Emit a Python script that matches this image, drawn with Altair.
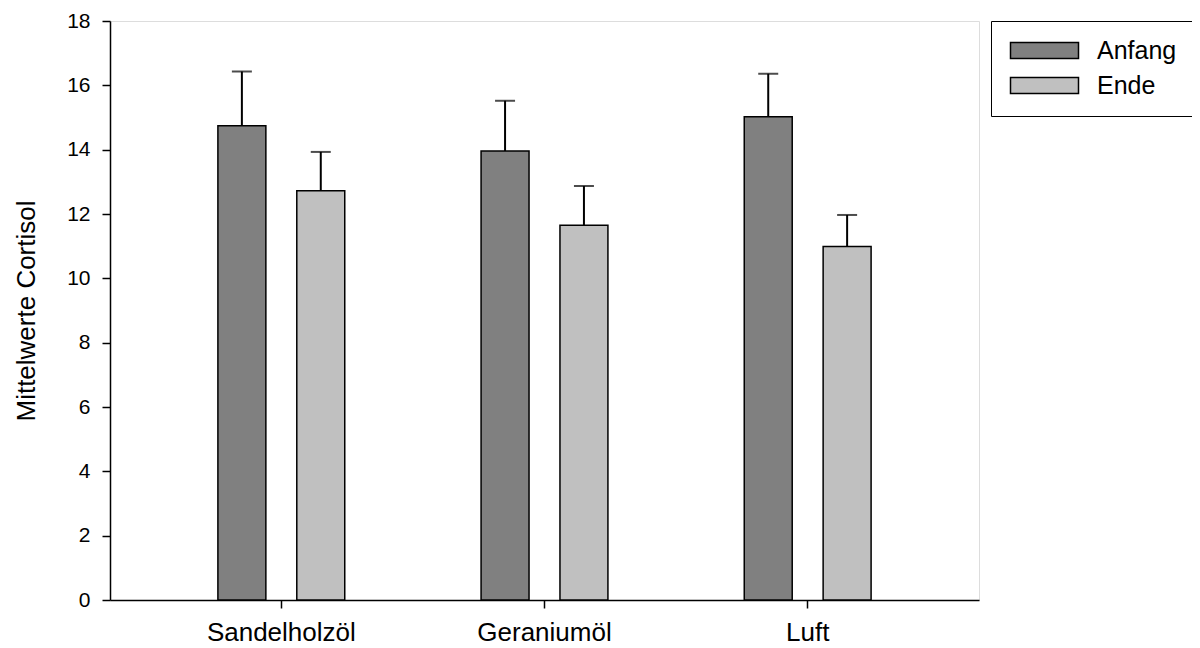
import altair as alt
import pandas as pd

categories = ["Sandelholzöl", "Geraniumöl", "Luft"]
groups = ["Anfang", "Ende"]
anfang = [14.74, 13.96, 15.02]
ende = [12.72, 11.65, 10.99]
anfang_err = [1.69, 1.56, 1.34]
ende_err = [1.21, 1.22, 0.98]

rows = []
for i, c in enumerate(categories):
    rows.append({"cat": c, "grp": "Anfang", "val": anfang[i], "top": anfang[i] + anfang_err[i]})
    rows.append({"cat": c, "grp": "Ende", "val": ende[i], "top": ende[i] + ende_err[i]})
df = pd.DataFrame(rows)

FONT = "Liberation Sans"

x = alt.X("cat:N", sort=categories, title=None,
          scale=alt.Scale(paddingInner=0, paddingOuter=0.151),
          axis=alt.Axis(labelAngle=0, labelFontSize=26, labelPadding=11, tickSize=8,
                        tickColor="black", domainColor="black", tickWidth=1.5, domainWidth=1.5,
                        labelColor="black", labelFont=FONT))
xo = alt.XOffset("grp:N", sort=groups,
                 scale=alt.Scale(paddingInner=0.392, paddingOuter=0.864))
y_scale = alt.Scale(domain=[0, 18], nice=False, zero=True)

bars = alt.Chart(df).mark_bar(stroke="black", strokeWidth=1.5).encode(
    x=x,
    xOffset=xo,
    y=alt.Y("val:Q", scale=y_scale, title="Mittelwerte Cortisol",
            axis=alt.Axis(values=list(range(0, 19, 2)), grid=False, tickSize=8,
                          labelPadding=12, labelFontSize=21, titleFontSize=26,
                          titleFontWeight="normal", titlePadding=27,
                          tickColor="black", domainColor="black", tickWidth=1.5, domainWidth=1.5,
                          labelColor="black", titleColor="black",
                          labelFont=FONT, titleFont=FONT)),
    color=alt.Color("grp:N", sort=groups, title=None,
                    scale=alt.Scale(domain=groups, range=["#808080", "#c0c0c0"]),
                    legend=alt.Legend(orient="none", legendX=881, legendY=0,
                                      strokeColor="black", fillColor="white", padding=17,
                                      symbolType="M-4.25,-1H4.25V1H-4.25Z", symbolSize=256,
                                      symbolOffset=24,
                                      symbolStrokeColor="black", symbolStrokeWidth=1.5,
                                      labelFontSize=25, labelOffset=40, rowPadding=9,
                                      labelFont=FONT, labelColor="black")),
)

rules = alt.Chart(df).mark_rule(color="black", strokeWidth=2).encode(
    x=x, xOffset=xo,
    y=alt.Y("val:Q", scale=y_scale),
    y2="top:Q",
)

caps = alt.Chart(df).mark_tick(color="black", size=20, thickness=2).encode(
    x=x, xOffset=xo,
    y=alt.Y("top:Q", scale=y_scale),
)

chart = alt.layer(bars, rules, caps).properties(
    width=869, height=579,
    autosize=alt.AutoSizeParams(type="none"),
    padding={"left": 102, "top": 13, "right": 213, "bottom": 48},
).configure_view(stroke="black", strokeWidth=1.5).configure(background="white")

chart.save("out.html", embed_options={"renderer": "svg", "actions": False})
